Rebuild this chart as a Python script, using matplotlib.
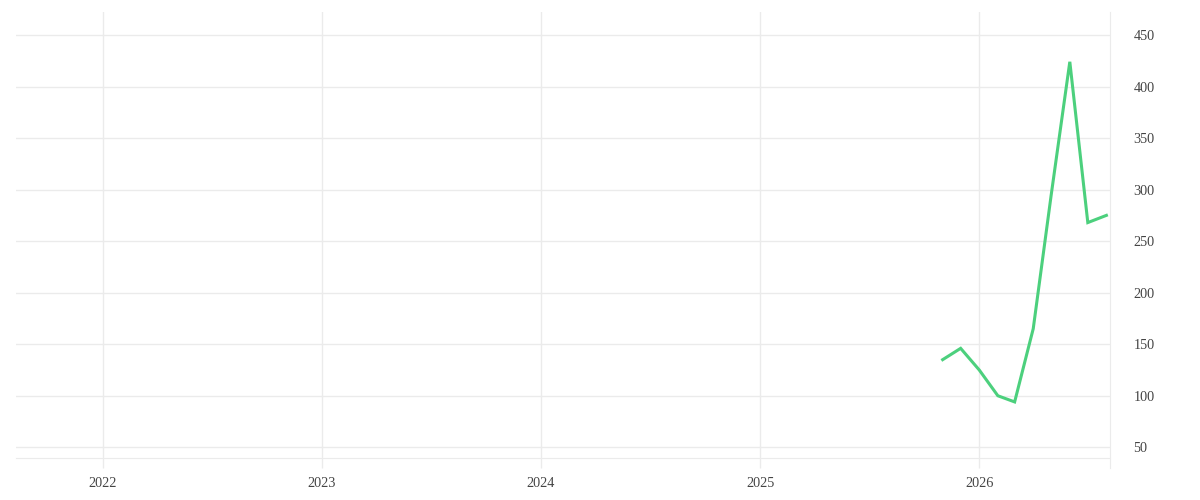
import numpy as np
import matplotlib
matplotlib.use("Agg")
import matplotlib.pyplot as plt

months = ["2025-11-01", "2025-12-01", "2026-01-01", "2026-02-01", "2026-03-01",
          "2026-04-01", "2026-05-01", "2026-06-01", "2026-07-01", "2026-08-01"]
values = [135, 146, 125, 100, 94, 165, 295, 424, 268, 275]

year_ticks = ["2022-01-01", "2023-01-01", "2024-01-01", "2025-01-01", "2026-01-01"]
year_labels = ["2022", "2023", "2024", "2025", "2026"]
y_ticks = [50, 100, 150, 200, 250, 300, 350, 400, 450]

plt.rcParams['font.family'] = ['Liberation Serif', 'DejaVu Serif']

dates = np.array(months, dtype="datetime64[D]")
grid_col = "#ebebeb"

fig = plt.figure(figsize=(12, 5), dpi=100)
ax = fig.add_axes([16 / 1200, 1 - 458 / 500, (1110 - 16) / 1200, (458 - 12) / 500])

ax.plot(dates, values, color="#4cd07d", lw=2.2, solid_joinstyle="miter", zorder=3)

ax.set_xlim(np.datetime64("2021-08-09"), np.datetime64("2026-08-07"))
ax.set_ylim(39.6, 472.3)

ax.set_xticks(np.array(year_ticks, dtype="datetime64[D]"))
ax.set_xticklabels(year_labels)
ax.set_yticks(y_ticks)
for lab in ax.get_yticklabels():
    lab.set_y(lab.get_position()[1])

ax.yaxis.tick_right()
ax.tick_params(axis="y", length=0, pad=17, labelsize=10.3, labelcolor="#444444")
ax.tick_params(axis="x", length=7.2, width=1, color=grid_col, pad=6.5,
               labelsize=10.3, labelcolor="#444444")

ax.grid(True, color=grid_col, lw=1)
ax.set_axisbelow(True)

for s in ["top", "left"]:
    ax.spines[s].set_visible(False)
ax.spines["bottom"].set_color(grid_col)
ax.spines["right"].set_color(grid_col)
ax.spines["right"].set_bounds(39.6 - 10 / 1.0307, 472.3)

fig.savefig("out.png", dpi=100)
